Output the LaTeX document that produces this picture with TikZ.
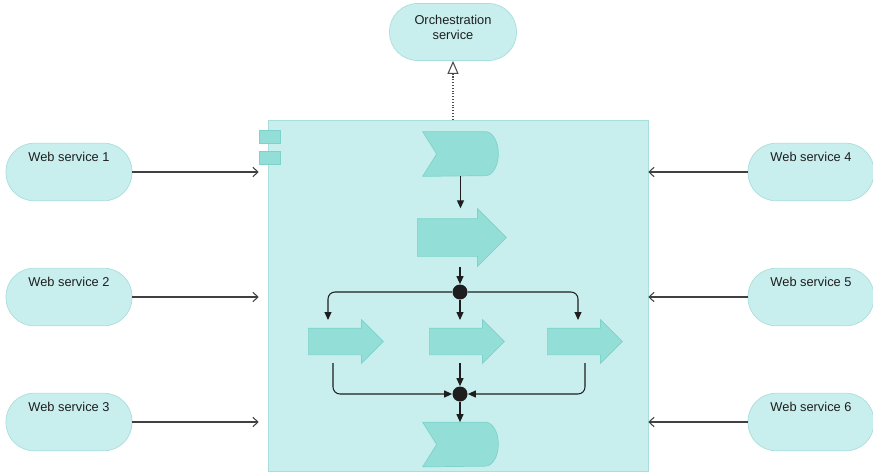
\documentclass[tikz,border=0pt]{standalone}
\usepackage{fontspec}
\setsansfont{Liberation Sans}
\usepackage{tikz}
\usetikzlibrary{arrows.meta, positioning, shapes.arrows, calc}
\definecolor{Ink}{HTML}{1E1E1E}
\definecolor{PaleTeal}{HTML}{C9EEEE}
\definecolor{PaleEdge}{HTML}{A8DEDC}
\definecolor{Teal}{HTML}{93DFD8}
\definecolor{TealEdge}{HTML}{7DD3CB}

\begin{document}
\begin{tikzpicture}[
  x=0.02cm, y=-0.02cm,
  font=\sffamily\fontsize{7.3}{8.8}\selectfont,
  pill/.style={draw=PaleEdge, fill=PaleTeal, rounded corners=0.56cm, minimum width=2.52cm, minimum height=1.15cm, text=Ink},
  service/.style={pill, inner sep=1pt, text height=0.25cm, text depth=0.67cm},
  orch/.style={pill, align=center, minimum width=2.54cm, minimum height=1.14cm, inner sep=1pt, text depth=0.18cm},
  procbox/.style={draw=PaleEdge, fill=PaleTeal, minimum width=7.6cm, minimum height=7.02cm, inner sep=0},
  port/.style={draw=TealEdge, fill=Teal, minimum width=0.42cm, minimum height=0.26cm, inner sep=0},
  event/.style={minimum width=1.5cm, minimum height=0.88cm, inner sep=0},
  eventshape/.style={draw=TealEdge, fill=Teal},
  task/.style={single arrow, draw=TealEdge, fill=Teal, inner sep=0, single arrow tip angle=90, anchor=tail},
  bigtask/.style={task, text height=0.74cm, text depth=0pt, minimum height=1.78cm, single arrow head extend=0.2cm},
  smalltask/.style={task, text height=0.52cm, text depth=0pt, minimum height=1.5cm, single arrow head extend=0.17cm},
  dot/.style={circle, fill=Ink, minimum size=0.3cm, inner sep=0},
  flow/.style={draw=Ink, line width=0.6pt, -{Triangle[length=1.6mm, width=1.4mm]}},
  feed/.style={draw=Ink!85, line width=0.6pt, -{Straight Barb[length=1mm, width=1.9mm]}},
  realize/.style={draw=Ink!80, densely dotted, line width=0.6pt, -{Triangle[open, length=2.6mm, width=2.2mm, fill=white]}}
]
\useasboundingbox (0,0) rectangle (873,471);

% composite process with its two ports
\node[procbox] (proc) at (458,295.5) {};
\node[port] (port1) at (269.5,136.5) {};
\node[port] (port2) at (269.5,158) {};

\node[orch] (orch) at (453,32) {Orchestration\\service};

% services on both sides
\node[service] (ws1) at (69,172) {Web service 1};
\node[service] (ws2) at (69,297) {Web service 2};
\node[service] (ws3) at (69,422) {Web service 3};
\node[service] (ws4) at (811,172) {Web service 4};
\node[service] (ws5) at (811,297) {Web service 5};
\node[service] (ws6) at (811,422) {Web service 6};

% inner flow
\node[event] (start) at (460.5,154) {};
\node[event] (finish) at (460.5,444.5) {};
\foreach \ev in {start, finish}
  \draw[eventshape] (\ev.north west) -- ([xshift=-0.26cm]\ev.north east)
    arc[start angle=90, end angle=-90, x radius=0.26cm, y radius=0.44cm]
    -- (\ev.south west) -- ([xshift=0.28cm]\ev.west) -- cycle;

\node[bigtask] (act) at (417,237.5) {};
\node[dot] (split) at (460,292) {};
\node[smalltask] (a1) at (308,341.5) {};
\node[smalltask] (a2) at (429,341.5) {};
\node[smalltask] (a3) at (547,341.5) {};
\node[dot] (merge) at (460,394) {};

\coordinate (a1in) at (328,320);
\coordinate (a3in) at (578,320);
\coordinate (a1out) at (333,363);
\coordinate (a3out) at (585,363);

\draw[flow, shorten >=0.2cm] (start.south) -- (start.south |- act.north);
\draw[flow, shorten <=0.2cm] (act.south -| split) -- (split.north);
\draw[flow, rounded corners=4pt] (split.west) -| (a1in);
\draw[flow] (split.south) -- (split |- a1in);
\draw[flow, rounded corners=4pt] (split.east) -| (a3in);
\draw[flow, rounded corners=4pt] (a1out) |- (merge.west);
\draw[flow] (merge |- a1out) -- (merge.north);
\draw[flow, rounded corners=4pt] (a3out) |- (merge.east);
\draw[flow] (merge.south) -- (merge.south |- finish.north);

\draw[realize] (proc.north -| orch) -- (orch.south);

\draw[feed] (ws1.east) -- (ws1.east -| port1.west);
\draw[feed] (ws2.east) -- (ws2.east -| port1.west);
\draw[feed] (ws3.east) -- (ws3.east -| port1.west);
\draw[feed] (ws4.west) -- (ws4.west -| proc.east);
\draw[feed] (ws5.west) -- (ws5.west -| proc.east);
\draw[feed] (ws6.west) -- (ws6.west -| proc.east);
\end{tikzpicture}
\end{document}
